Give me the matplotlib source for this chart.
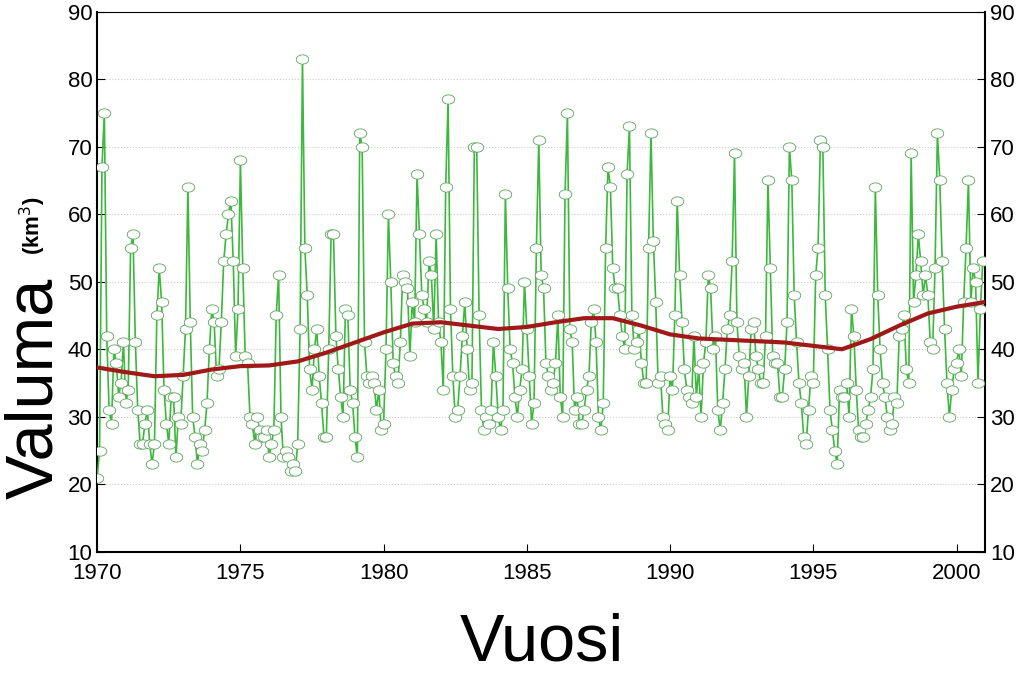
import numpy as np
import matplotlib
matplotlib.use("Agg")
import matplotlib.pyplot as plt
from matplotlib.path import Path

plt.rcParams["font.family"] = "Liberation Sans"

start_year = 1970
# monthly runoff (km3), one row per year, Jan..Dec
monthly = [
    [21, 25, 67, 75, 42, 31, 29, 40, 38, 33, 35, 41],  # 1970
    [32, 34, 55, 57, 41, 31, 26, 26, 29, 31, 26, 23],  # 1971
    [26, 45, 52, 47, 34, 29, 26, 33, 33, 24, 30, 29],  # 1972
    [36, 43, 64, 44, 30, 27, 23, 26, 25, 28, 32, 40],  # 1973
    [46, 44, 36, 37, 44, 53, 57, 60, 62, 53, 39, 46],  # 1974
    [68, 52, 39, 38, 30, 29, 26, 30, 28, 27, 27, 28],  # 1975
    [24, 26, 28, 45, 51, 30, 24, 25, 24, 22, 23, 22],  # 1976
    [26, 43, 83, 55, 48, 37, 34, 40, 43, 36, 32, 27],  # 1977
    [27, 40, 57, 57, 42, 37, 33, 30, 46, 45, 34, 32],  # 1978
    [27, 24, 72, 70, 41, 36, 35, 36, 35, 31, 34, 28],  # 1979
    [29, 40, 60, 50, 38, 36, 35, 41, 51, 50, 49, 39],  # 1980
    [47, 44, 66, 57, 48, 46, 44, 53, 51, 43, 57, 44],  # 1981
    [41, 34, 64, 77, 46, 36, 30, 31, 36, 42, 47, 40],  # 1982
    [34, 35, 70, 70, 45, 31, 28, 30, 29, 31, 41, 36],  # 1983
    [30, 28, 31, 63, 49, 40, 38, 33, 30, 34, 37, 50],  # 1984
    [43, 36, 29, 32, 55, 71, 51, 49, 38, 36, 34, 35],  # 1985
    [38, 45, 33, 30, 63, 75, 43, 41, 31, 33, 29, 29],  # 1986
    [31, 34, 36, 44, 46, 41, 30, 28, 32, 55, 67, 64],  # 1987
    [52, 49, 49, 45, 42, 40, 66, 73, 45, 40, 41, 43],  # 1988
    [38, 35, 35, 55, 72, 56, 47, 35, 36, 30, 29, 28],  # 1989
    [36, 34, 45, 62, 51, 44, 37, 34, 33, 32, 42, 33],  # 1990
    [37, 30, 38, 41, 51, 49, 40, 42, 31, 28, 32, 37],  # 1991
    [43, 45, 53, 69, 44, 39, 37, 38, 30, 36, 43, 44],  # 1992
    [39, 37, 35, 35, 42, 65, 52, 39, 38, 38, 33, 33],  # 1993
    [37, 44, 70, 65, 48, 41, 35, 32, 27, 26, 31, 36],  # 1994
    [35, 51, 55, 71, 70, 48, 40, 31, 28, 25, 23, 34],  # 1995
    [33, 33, 35, 30, 46, 42, 34, 28, 27, 27, 29, 31],  # 1996
    [33, 37, 64, 48, 40, 35, 33, 30, 28, 29, 33, 32],  # 1997
    [42, 43, 45, 37, 35, 69, 47, 51, 57, 53, 48, 51],  # 1998
    [48, 41, 40, 52, 72, 65, 53, 43, 35, 30, 34, 37],  # 1999
    [38, 40, 36, 47, 55, 65, 47, 52, 50, 35, 46, 53],  # 2000
]
trend_years = list(range(1970, 2002))
trend_vals = [37.3, 36.6, 36.0, 36.2, 37.0, 37.5, 37.6, 38.2, 39.5, 41.0, 42.5, 43.8,
              44.0, 43.5, 43.0, 43.3, 44.0, 44.6, 44.6, 43.5, 42.2, 41.6, 41.4, 41.2,
              41.0, 40.5, 40.0, 41.5, 43.5, 45.3, 46.3, 47.0]

vals = np.array(monthly, dtype=float).ravel()
t = start_year + np.arange(len(vals)) / 12.0

theta = np.linspace(0, 2 * np.pi, 40)
ell = Path(np.column_stack([1.35 * np.cos(theta), np.sin(theta)]), closed=True)

fig = plt.figure(figsize=(10.23, 6.88), dpi=100)
ax = fig.add_axes([0.095, 0.198, 0.868, 0.785])
ax.plot(t, vals, color="#3cb83c", lw=1.2, marker=ell, ms=9, mfc="white",
        mec="#5aa55a", mew=0.6, zorder=3)
ax.plot(trend_years, trend_vals, color="#a01818", lw=3, zorder=4, solid_capstyle="round")
ax.set_xlim(1970, 2001)
ax.set_ylim(10, 90)
ax.set_xticks([1970, 1975, 1980, 1985, 1990, 1995, 2000])
ax.set_yticks(range(10, 91, 10))
ax.yaxis.grid(True, color="#cccccc", ls=":", lw=0.8)
ax.tick_params(labelsize=16, direction="in", length=6, right=True, labelright=True, top=False)
ax.tick_params(axis="x", pad=8)
for s in ax.spines.values():
    s.set_linewidth(1.5)
ax.spines["top"].set_linewidth(0.8)
fig.text(0.034, 0.435, "Valuma", rotation=90, fontsize=48, ha="center", va="center")
fig.text(0.032, 0.672, "(km$^3$)", rotation=90, fontsize=16, fontweight="bold", ha="center", va="center")
fig.text(0.53, 0.065, "Vuosi", fontsize=48, ha="center", va="center")
fig.savefig("out.png")
